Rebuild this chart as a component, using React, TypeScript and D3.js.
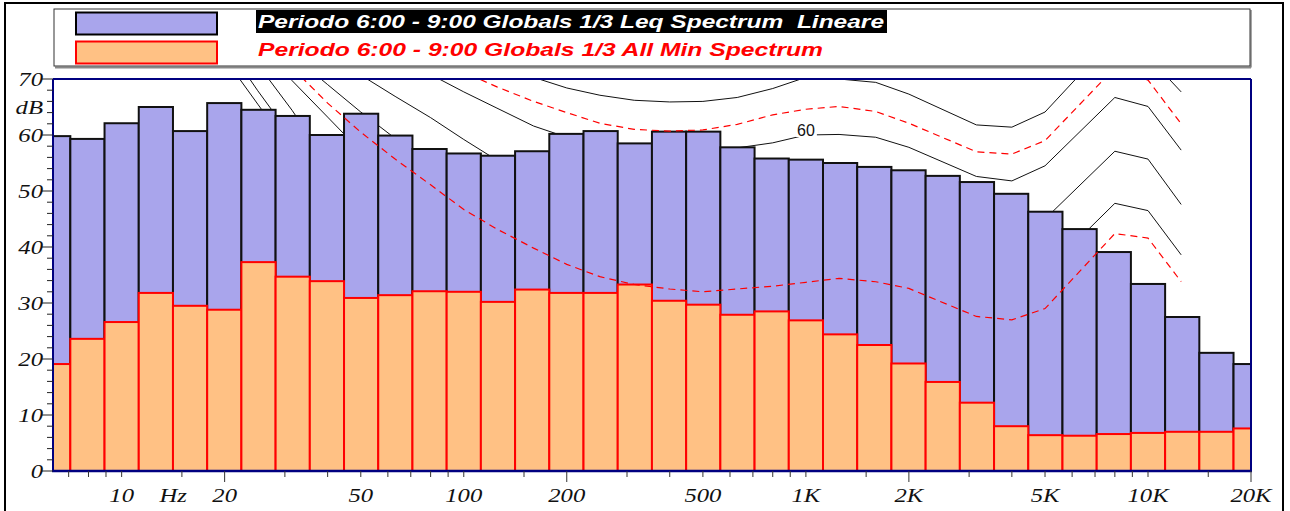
import * as d3 from 'd3'

// ─── Data ─────────────────────────────────────────────────────────────────────

// 1/3 octave band centres (Hz)
const BANDS = [
  6.3, 8, 10, 12.5, 16, 20, 25, 31.5, 40, 50, 63, 80, 100, 125, 160, 200, 250, 315,
  400, 500, 630, 800, 1000, 1250, 1600, 2000, 2500, 3150, 4000, 5000, 6300, 8000,
  10000, 12500, 16000, 20000,
]

// Leq spectrum (lineare), dB
const LEQ_DB = [
  59.8, 59.3, 62.1, 65.0, 60.7, 65.7, 64.5, 63.4, 60.0, 63.8, 59.9, 57.5, 56.7, 56.3,
  57.1, 60.2, 60.7, 58.5, 60.6, 60.6, 57.8, 55.8, 55.6, 55.0, 54.3, 53.7, 52.7, 51.6,
  49.5, 46.3, 43.2, 39.1, 33.4, 27.5, 21.1, 19.1,
]

// All Min spectrum, dB
const MIN_DB = [
  19.1, 23.6, 26.6, 31.8, 29.5, 28.8, 37.3, 34.7, 33.9, 30.9, 31.4, 32.1, 32.0, 30.2,
  32.4, 31.8, 31.8, 33.3, 30.4, 29.7, 27.9, 28.5, 26.9, 24.4, 22.5, 19.2, 15.9, 12.2,
  8.0, 6.4, 6.3, 6.6, 6.8, 7.0, 7.0, 7.6,
]

// Reference contours: [Hz, dB]
const CONTOUR_70: [number, number][] = [
  [20, 105], [25, 98], [31.5, 92], [40, 87], [50, 83], [63, 80], [80, 77], [100, 74.5],
  [125, 72.2], [160, 70.3], [200, 68.4], [250, 67.1], [315, 66.2], [400, 65.9], [500, 66.0],
  [630, 66.7], [800, 68.3], [1000, 70.3], [1250, 70.0], [1600, 69.4], [2000, 67.3],
  [3150, 61.8], [4000, 61.4], [5000, 64.1], [8000, 77.5], [10000, 74.0], [12500, 67.7],
]
const CONTOUR_65: [number, number][] = [
  [20, 100], [25, 93], [31.5, 87], [40, 82], [50, 78.5], [63, 76], [80, 73.5], [100, 71.2],
  [125, 68.6], [160, 66.0], [200, 64.0], [250, 62.1], [315, 61.0], [400, 60.7], [500, 60.9],
  [630, 61.9], [800, 63.6], [1000, 64.6], [1250, 65.1], [1600, 64.2], [2000, 62.1],
  [3150, 57.0], [4000, 56.6], [5000, 59.0], [8000, 72.0], [10000, 69.8], [12500, 62.0],
]
const CONTOUR_60: [number, number][] = [
  [20, 95], [25, 88], [31.5, 82], [40, 77.5], [50, 75], [63, 72.8], [80, 70.8], [100, 67.7],
  [125, 64.8], [160, 61.6], [200, 59.6], [250, 58.8], [315, 58.2], [400, 57.8], [500, 57.6],
  [630, 57.7], [800, 58.6], [1000, 60.0], [1250, 60.1], [1600, 59.6], [2000, 57.8],
  [3150, 52.6], [4000, 51.8], [5000, 54.5], [8000, 66.7], [10000, 65.1], [12500, 57.3],
]
const CONTOUR_50: [number, number][] = [
  [20, 90], [25, 83], [31.5, 77], [40, 73.5], [50, 70.7], [63, 66.9], [80, 63.1], [100, 59.2],
  [125, 55.5], [160, 52.5], [200, 50.5], [250, 49.5], [315, 48.8], [400, 48.3], [500, 48.0],
  [630, 48.0], [800, 48.6], [1000, 50.0], [1250, 50.2], [1600, 49.8], [2000, 48.0],
  [3150, 43.0], [4000, 42.0], [5000, 45.0], [8000, 57.1], [10000, 55.7], [12500, 47.6],
]
const CONTOUR_40: [number, number][] = [
  [20, 85], [25, 80], [31.5, 74.3], [40, 69], [50, 64.1], [63, 59.4], [80, 54.5], [100, 50],
  [125, 47], [160, 44.5], [200, 42.5], [250, 41], [315, 40], [400, 39.3], [500, 39],
  [630, 39], [800, 39.4], [1000, 40.5], [1250, 40.8], [1600, 40.4], [2000, 38.7],
  [3150, 33.7], [4000, 32.7], [5000, 35.5], [8000, 47.8], [10000, 46.5], [12500, 38.6],
]
const CONTOUR_35: [number, number][] = [
  [20, 84], [25, 78], [31.5, 72], [40, 65.7], [50, 60.5], [63, 55.7], [80, 51.1], [100, 46.7],
  [125, 43.2], [160, 39.8], [200, 36.9], [250, 34.7], [315, 33.3], [400, 32.5], [500, 32.0],
  [630, 32.5], [800, 33.0], [1000, 33.7], [1250, 34.4], [1600, 33.8], [2000, 32.6],
  [3150, 27.6], [4000, 27.0], [5000, 29.0], [8000, 42.4], [10000, 41.6], [12500, 33.8],
]
const CONTOUR_30: [number, number][] = [
  [20, 82], [25, 76.1], [31.5, 69.7], [40, 63.2], [50, 57.1], [63, 51], [80, 46], [100, 41.5], [125, 38],
]
const CONTOUR_20: [number, number][] = [
  [20, 80.5], [25, 72.6], [31.5, 64.4], [40, 55], [50, 48], [63, 43], [80, 38], [100, 34], [125, 31],
]
const CONTOUR_10: [number, number][] = [
  [20, 76.5], [25, 67.9], [31.5, 59.5], [40, 50], [50, 43], [63, 37], [80, 32], [100, 28], [125, 25],
]
const CONTOUR_0: [number, number][] = [
  [20, 73.7], [25, 65.5], [31.5, 57], [40, 48], [50, 40], [63, 34], [80, 29], [100, 24], [125, 20],
]

const X_LABELS = [10, 20, 50, 100, 200, 500, 1000, 2000, 5000, 10000, 20000]
const X_TICK_MULTS = [1, 1.5, 2, 3, 4, 5, 6, 7, 8, 9]
const Y_LABELS = [0, 10, 20, 30, 40, 50, 60, 70]

const LEQ_TITLE = 'Periodo 6:00 - 9:00 Globals 1/3 Leq Spectrum  Lineare'
const MIN_TITLE = 'Periodo 6:00 - 9:00 Globals 1/3 All Min Spectrum'

// ─── Layout ───────────────────────────────────────────────────────────────────

const W = 1290
const H = 511
const PLOT = { left: 53, right: 1251, top: 79, bottom: 471 }
const NAVY = '#000080'
const BLUE = '#a9a5ec'
const ORANGE = '#ffc184'
const SERIF = '"Liberation Serif", "Times New Roman", serif'
const SANS = '"Liberation Sans", Arial, sans-serif'

const x = d3.scaleLog().domain([6.3, 20000]).range([PLOT.left, PLOT.right])
const y = d3.scaleLinear().domain([0, 70]).range([PLOT.bottom, PLOT.top])

const bandEdges = (f: number) => {
  const c = Math.pow(10, Math.round(10 * Math.log10(f)) / 10)
  return [c * Math.pow(10, -0.05), c * Math.pow(10, 0.05)]
}

const line = d3.line<[number, number]>()
  .x((d) => x(d[0]))
  .y((d) => y(d[1]))

const BLACK_CONTOURS = [CONTOUR_70, CONTOUR_60, CONTOUR_50, CONTOUR_40, CONTOUR_30, CONTOUR_20, CONTOUR_10, CONTOUR_0]
const RED_CONTOURS = [CONTOUR_65, CONTOUR_35]

const xTicks = [1, 10, 100, 1000, 10000]
  .flatMap((dec) => X_TICK_MULTS.map((m) => ({ v: dec * m, major: m === 2 })))
  .filter((t) => t.v >= 6.3 && t.v <= 20000)

const yTicks = d3.range(0, 71, 2)

const fmtHz = (v: number) => (v >= 1000 ? `${v / 1000}K` : `${v}`)

function Bars({ values, fill, stroke }: { values: number[]; fill: string; stroke: string }) {
  return (
    <g>
      {BANDS.map((f, i) => {
        const [lo, hi] = bandEdges(f)
        return (
          <rect
            key={f}
            x={x(lo)}
            y={y(values[i])}
            width={x(hi) - x(lo)}
            height={y(0) - y(values[i])}
            fill={fill}
            stroke={stroke}
            strokeWidth={2}
          />
        )
      })}
    </g>
  )
}

export default function App() {
  const labelC = CONTOUR_60.find((d) => d[0] === 1000)!
  return (
    <svg
      width={W}
      height={H}
      style={{ position: 'absolute', left: 0, top: 0, background: '#fff' }}
    >
      <defs>
        <clipPath id="plot-clip">
          <rect x={PLOT.left} y={PLOT.top} width={PLOT.right - PLOT.left} height={PLOT.bottom - PLOT.top} />
        </clipPath>
      </defs>

      {/* outer frame */}
      <rect x={5} y={3} width={1278} height={560} fill="none" stroke="#000" strokeWidth={2} />

      {/* legend */}
      <line x1={55} y1={67.5} x2={1251} y2={67.5} stroke="#888" strokeWidth={2} />
      <line x1={1251} y1={10} x2={1251} y2={67.5} stroke="#888" strokeWidth={1.5} />
      <rect x={54} y={9} width={1196} height={57} fill="#fff" stroke="#333" strokeWidth={1} />
      <rect x={76} y={12.5} width={141} height={22} fill={BLUE} stroke="#000" strokeWidth={2} />
      <rect x={76} y={41.5} width={141} height={22} fill={ORANGE} stroke="#f00" strokeWidth={2} />
      <rect x={256} y={10} width={631} height={23} fill="#000" />
      <text
        x={258} y={28} fill="#fff" fontFamily={SANS} fontWeight="bold" fontStyle="italic"
        fontSize={19} textLength={626} lengthAdjust="spacingAndGlyphs" style={{ whiteSpace: 'pre' }}
      >
        {LEQ_TITLE}
      </text>
      <text
        x={258} y={56} fill="#f00" fontFamily={SANS} fontWeight="bold" fontStyle="italic"
        fontSize={19} textLength={565} lengthAdjust="spacingAndGlyphs"
      >
        {MIN_TITLE}
      </text>

      <g clipPath="url(#plot-clip)">
        {/* black reference contours (behind bars) */}
        {BLACK_CONTOURS.map((c, i) => (
          <path key={i} d={line(c) ?? ''} fill="none" stroke="#111" strokeWidth={1} />
        ))}
        {/* "60" contour label */}
        <rect x={x(labelC[0]) - 10} y={y(labelC[1]) - 13} width={21} height={15} fill="#fff" />
        <text x={x(labelC[0])} y={y(labelC[1]) + 1} textAnchor="middle" fontFamily={SANS} fontSize={16} fill="#111">
          60
        </text>

        <Bars values={LEQ_DB} fill={BLUE} stroke="#111" />
        <Bars values={MIN_DB} fill={ORANGE} stroke="#f00" />

        {/* red dashed contours (over bars) */}
        {RED_CONTOURS.map((c, i) => (
          <path key={i} d={line(c) ?? ''} fill="none" stroke="#f00" strokeWidth={1.2} strokeDasharray="7,5" />
        ))}
      </g>

      {/* plot frame */}
      <line x1={PLOT.left} y1={PLOT.top} x2={PLOT.right} y2={PLOT.top} stroke={NAVY} strokeWidth={2} />
      <line x1={PLOT.right} y1={PLOT.top} x2={PLOT.right} y2={PLOT.bottom} stroke={NAVY} strokeWidth={2} />
      <line x1={PLOT.left} y1={PLOT.top} x2={PLOT.left} y2={PLOT.bottom} stroke={NAVY} strokeWidth={2} />
      <line x1={PLOT.left - 1} y1={PLOT.bottom} x2={PLOT.right + 1} y2={PLOT.bottom} stroke={NAVY} strokeWidth={2.5} />

      {/* y axis */}
      {yTicks.map((v) => (
        <line
          key={v}
          x1={PLOT.left - (v % 10 === 0 ? 11 : 6)} x2={PLOT.left}
          y1={y(v)} y2={y(v)}
          stroke="#222" strokeWidth={1}
        />
      ))}
      {Y_LABELS.map((v) => (
        <text
          key={v}
          transform={`translate(43,${y(v)}) scale(1.3,1)`}
          dy="0.35em" textAnchor="end" fontFamily={SERIF} fontStyle="italic" fontSize={19} fill="#111"
        >
          {v}
        </text>
      ))}
      <text
        transform={`translate(43,${y(65)}) scale(1.3,1)`}
        dy="0.35em" textAnchor="end" fontFamily={SERIF} fontStyle="italic" fontSize={19} fill="#111"
      >
        dB
      </text>

      {/* x axis */}
      {xTicks.map((t) => (
        <line
          key={t.v}
          x1={x(t.v)} x2={x(t.v)}
          y1={PLOT.bottom} y2={PLOT.bottom + (t.major ? 11 : 6)}
          stroke="#333" strokeWidth={1}
        />
      ))}
      {X_LABELS.map((v) => (
        <text
          key={v}
          transform={`translate(${x(v)},502) scale(1.3,1)`}
          textAnchor="middle" fontFamily={SERIF} fontStyle="italic" fontSize={19} fill="#111"
        >
          {fmtHz(v)}
        </text>
      ))}
      <text
        transform={`translate(${x(Math.sqrt(10 * 20))},502) scale(1.3,1)`}
        textAnchor="middle" fontFamily={SERIF} fontStyle="italic" fontSize={19} fill="#111"
      >
        Hz
      </text>
    </svg>
  )
}
